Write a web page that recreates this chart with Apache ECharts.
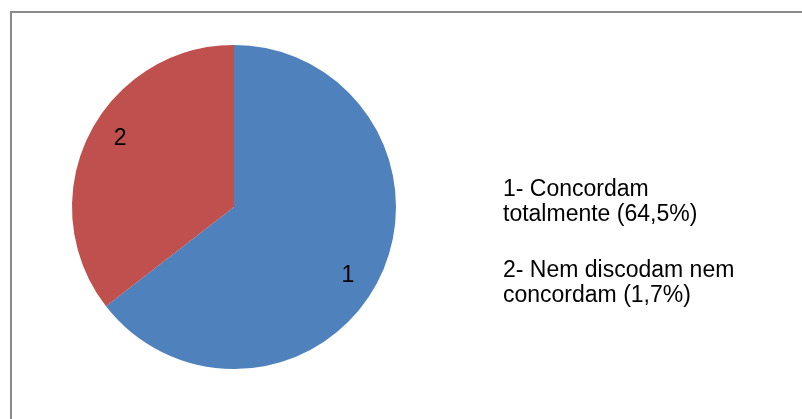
<!DOCTYPE html>
<html>
<head>
<meta charset="utf-8">
<script src="https://cdn.jsdelivr.net/npm/echarts@6/dist/echarts.min.js"></script>
<style>
  html, body { margin: 0; padding: 0; background: #fff; }
  #chart { width: 802px; height: 419px; }
</style>
</head>
<body>
<div id="chart"></div>
<script>
// Slice labels and their shares (%)
const categories = ['1', '2'];
const values = [64.5, 35.5];
const colors = ['#4F81BD', '#C0504D'];
// Caption text, one block per slice
const captions = [
  '1- Concordam\ntotalmente (64,5%)',
  '2- Nem discodam nem\nconcordam (1,7%)'
];

const font = '"Liberation Sans", Arial, sans-serif';
const pieData = categories.map((c, i) => ({
  name: c,
  value: values[i],
  itemStyle: { color: colors[i] }
}));

function caption(text, top) {
  return {
    type: 'text',
    left: 503,
    top: top,
    style: {
      text: text,
      fontSize: 23,
      fontFamily: font,
      fill: '#000',
      lineHeight: 25
    }
  };
}

const chart = echarts.init(document.getElementById('chart'));
chart.setOption({
  animation: false,
  backgroundColor: '#ffffff',
  graphic: [
    {
      type: 'rect',
      shape: { x: 11, y: 12, width: 900, height: 500 },
      style: { fill: 'none', stroke: '#8a8a8a', lineWidth: 2 },
      z: 0
    },
    caption(captions[0], 177),
    caption(captions[1], 258)
  ],
  series: [
    {
      type: 'pie',
      center: [234, 207],
      radius: [0, 162],
      startAngle: 90,
      clockwise: true,
      silent: true,
      label: { show: false },
      labelLine: { show: false },
      itemStyle: { borderWidth: 0 },
      data: pieData
    },
    {
      // transparent ring that carries the slice numbers
      type: 'pie',
      center: [234, 207],
      radius: [98, 162],
      startAngle: 85,
      clockwise: true,
      silent: true,
      itemStyle: { color: 'rgba(0,0,0,0)', borderWidth: 0 },
      label: {
        show: true,
        position: 'inside',
        formatter: '{b}',
        color: '#000',
        fontSize: 23,
        fontFamily: font
      },
      labelLine: { show: false },
      data: categories.map((c, i) => ({ name: c, value: values[i] }))
    }
  ]
});
</script>
</body>
</html>
